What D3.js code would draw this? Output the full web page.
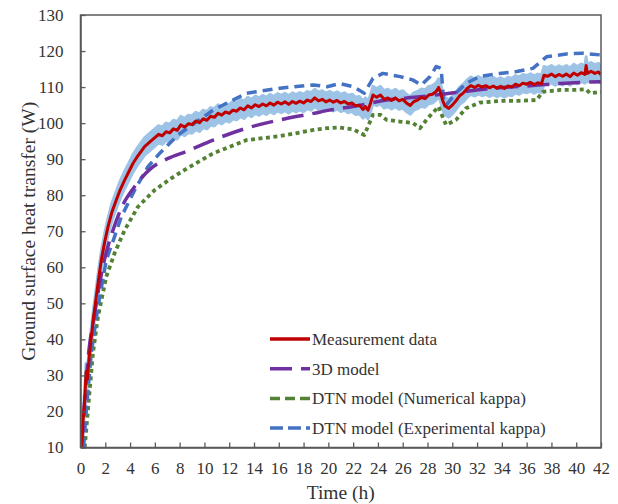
<!DOCTYPE html>
<html>
<head>
<meta charset="utf-8">
<script src="https://cdn.jsdelivr.net/npm/d3@7"></script>
<style>
  html, body { margin: 0; padding: 0; background: #fff; }
  svg { display: block; }
  text { font-family: "Liberation Serif", "Times New Roman", serif; font-weight: 400; fill: #333; }
</style>
</head>
<body>
<div id="chart"></div>
<script>
// Measured ground surface heat transfer (W) versus time (h)
const measTime = [0.05,0.2,0.35,0.45,0.55,0.7,0.87,1.05,1.27,1.45,1.68,1.95,2.22,2.55,2.89,3.2,3.56,3.9,4.23,4.6,5.17,5.6,
  6.0,6.3,6.6,6.9,7.2,7.5,7.8,8.1,8.4,8.7,9.0,9.3,9.6,9.9,10.2,10.5,10.8,11.1,11.4,11.7,12.0,12.3,12.6,12.9,13.2,13.5,13.8,
  14.1,14.4,14.7,15.0,15.3,15.6,15.9,16.2,16.5,16.8,17.1,17.4,17.7,18.0,18.3,18.6,18.9,19.2,19.5,19.8,20.1,20.4,20.7,21.0,
  21.3,21.6,21.9,22.2,22.5,22.8,23.0,23.2,23.4,23.6,23.9,24.2,24.5,24.8,25.1,25.4,25.7,26.0,26.3,26.6,26.9,27.2,27.5,27.8,
  28.1,28.4,28.7,28.9,29.05,29.2,29.4,29.7,30.0,30.3,30.6,30.9,31.2,31.5,31.8,32.1,32.4,32.7,33.0,33.3,33.6,33.9,34.2,34.5,
  34.8,35.1,35.4,35.7,36.0,36.3,36.6,36.9,37.2,37.4,37.7,38.0,38.3,38.6,38.9,39.2,39.5,39.8,40.1,40.4,40.7,40.8,40.9,41.2,
  41.5,41.8,42.0];
const measValue = [10,17,24,31,29,35,40.7,46,51.8,56.5,62,67,71.3,75.5,78.7,81.5,84.2,86.5,88.8,90.8,93.5,94.8,
  96.0,96.9,96.5,97.6,97.3,98.4,98.0,99.5,98.9,99.8,99.6,100.6,100.1,101.2,100.8,101.9,101.6,102.7,102.2,103.1,102.7,103.6,
  103.3,104.2,103.7,104.8,104.2,105.1,104.6,105.3,104.8,105.6,105.0,105.8,105.3,105.9,105.2,106.0,105.5,106.1,105.6,106.4,
  106.0,107.0,106.2,106.6,105.9,106.4,105.8,106.3,105.6,106.0,105.3,105.6,104.8,105.0,103.8,104.6,103.6,105.5,107.8,107.2,
  107.8,106.6,107.0,106.3,107.0,106.2,106.6,105.6,104.9,106.0,106.4,107.1,106.8,107.8,108.0,108.8,109.9,108.5,106.5,104.8,
  104.1,105.0,106.2,107.6,108.4,109.6,110.4,109.9,110.5,110.0,110.4,109.8,110.3,109.7,110.2,109.6,110.3,110.0,110.8,110.4,
  111.1,110.8,111.3,110.7,111.2,110.9,113.3,113.0,113.6,112.9,113.5,113.0,113.6,112.9,113.9,113.3,114.0,113.5,116.0,113.8,
  114.4,113.8,114.2,113.4];
const measError = 2.4; // half-width of the measurement uncertainty band (W)

// 3D model prediction
const model3dTime = [0.1,0.6,1.14,1.81,2.62,3.29,4.37,5.71,7.06,8.5,10.7,13.4,16.1,18.8,20.1,22.0,24.7,27.4,30.1,33.3,36.0,38.7,42.0];
const model3dValue = [10,34.3,47.2,60.2,70.3,76.4,82.4,87.5,90.2,92.1,95.3,98.6,100.9,102.7,103.6,104.6,106.4,107.3,108.4,109.7,110.3,111.0,111.5];

// DTN model, numerical kappa
const dtnNumTime = [0.34,0.6,1.0,1.41,2.08,2.75,3.56,4.64,5.98,7.32,8.4,10.7,13.4,16.1,18.8,19.9,20.9,22.0,22.9,23.6,24.2,24.7,25.8,26.8,27.4,28.0,28.9,29.1,29.5,30.3,31.1,32.2,34.1,35.4,36.8,37.3,38.7,40.0,40.8,41.1,42.0];
const dtnNumValue = [10,20.4,36.1,46.3,57.4,63.9,70.3,76.8,81.4,84.7,87.0,91.6,95.3,96.4,98.1,98.6,98.8,98.3,96.7,102.3,102.3,100.9,100.4,100.1,98.6,101.3,104.6,102.7,99.5,100.9,104.1,105.7,106.2,106.2,106.4,108.7,109.2,109.2,109.4,108.3,108.7];

// DTN model, experimental kappa
const dtnExpTime = [0.25,0.47,0.87,1.41,2.08,2.75,3.29,4.37,5.44,6.38,7.86,10.7,13.4,16.1,18.8,19.9,20.9,22.0,22.9,23.6,24.4,25.8,26.8,27.5,28.2,28.7,29.1,29.3,29.5,30.3,31.1,32.2,33.8,35.2,36.5,37.6,39.2,40.5,42.0];
const dtnExpValue = [10,20.4,36.2,49,62,68.5,74,81.4,87.9,91.6,96.7,103.6,108.3,109.7,110.6,110.1,111,110.1,108.3,112.4,113.8,112.9,112,110.6,112.9,115.7,115.2,106.4,105,108.3,111,112.9,113.8,114.3,115.2,118.4,119.2,119.4,118.9];

const xTicks = d3.range(0, 43, 2);
const yTicks = d3.range(10, 131, 10);

const legendLabels = ["Measurement data", "3D model", "DTN model (Numerical kappa)", "DTN model (Experimental kappa)"];

const W = 618, H = 504;
const margin = { left: 80.5, right: 17, top: 15, bottom: 56.5 };
const serif = '"Liberation Serif", "Times New Roman", serif';

const svg = d3.select("#chart").append("svg").attr("width", W).attr("height", H);

const x = d3.scaleLinear().domain([0, 42]).range([margin.left, W - margin.right]);
const y = d3.scaleLinear().domain([10, 130]).range([H - margin.bottom, margin.top]);

const zip = (ts, vs) => ts.map((t, i) => ({ t, v: vs[i] }));
const meas = zip(measTime, measValue);

svg.append("clipPath").attr("id", "plot-clip")
  .append("rect")
  .attr("x", x(0)).attr("y", y(130))
  .attr("width", x(42) - x(0)).attr("height", y(10) - y(130));

const plot = svg.append("g").attr("clip-path", "url(#plot-clip)");

// uncertainty band around the measurement
plot.append("path")
  .datum(meas)
  .attr("fill", "#9dc3e6")
  .attr("stroke", "#9dc3e6")
  .attr("stroke-width", 3)
  .attr("stroke-linejoin", "round")
  .attr("d", d3.area()
    .x(d => x(d.t))
    .y0(d => y(Math.max(10, d.v - measError)))
    .y1(d => y(d.v + measError)));

const line = d3.line().x(d => x(d.t)).y(d => y(d.v));

const series = [
  { data: zip(dtnNumTime, dtnNumValue), color: "#548235", width: 3.8, dash: "4,3.5", curve: d3.curveLinear },
  { data: zip(dtnExpTime, dtnExpValue), color: "#4472c4", width: 3.5, dash: "10,6", curve: d3.curveLinear },
  { data: zip(model3dTime, model3dValue), color: "#7030a0", width: 3.5, dash: "22,9", curve: d3.curveMonotoneX },
];

series.forEach(s => {
  plot.append("path")
    .datum(s.data)
    .attr("fill", "none")
    .attr("stroke", s.color)
    .attr("stroke-width", s.width)
    .attr("stroke-dasharray", s.dash)
    .attr("stroke-linejoin", "round")
    .attr("d", line.curve(s.curve)(s.data));
});

// measurement line drawn over the models
plot.append("path")
  .datum(meas)
  .attr("fill", "none")
  .attr("stroke", "#c00000")
  .attr("stroke-width", 3)
  .attr("stroke-linejoin", "round")
  .attr("d", d3.line().x(d => x(d.t)).y(d => y(d.v))(meas));

// frame and axes
svg.append("rect")
  .attr("x", x(0)).attr("y", y(130))
  .attr("width", x(42) - x(0)).attr("height", y(10) - y(130))
  .attr("fill", "none").attr("stroke", "#595959").attr("stroke-width", 1.5);

const xAxis = svg.append("g")
  .attr("transform", `translate(0,${y(10)})`)
  .call(d3.axisBottom(x).tickValues(xTicks).tickSizeInner(-5).tickSizeOuter(0).tickPadding(14));
const yAxis = svg.append("g")
  .attr("transform", `translate(${x(0)},0)`)
  .call(d3.axisLeft(y).tickValues(yTicks).tickSizeInner(-5).tickSizeOuter(0).tickPadding(17));

[xAxis, yAxis].forEach(g => {
  g.select(".domain").attr("stroke", "#595959").attr("stroke-width", 1.5);
  g.selectAll(".tick line").attr("stroke", "#595959").attr("stroke-width", 1.3);
  g.selectAll(".tick text")
    .style("font-family", serif).style("font-weight", 400)
    .style("font-size", "17px").attr("fill", "#333");
});

// axis titles
svg.append("text")
  .attr("x", (x(0) + x(42)) / 2).attr("y", 499)
  .attr("text-anchor", "middle").style("font-size", "19.5px")
  .text("Time (h)");
svg.append("text")
  .attr("transform", `translate(35,${(y(10) + y(130)) / 2}) rotate(-90)`)
  .attr("text-anchor", "middle").style("font-size", "19.5px")
  .text("Ground surface heat transfer (W)");

// legend
const legendStyles = [
  { color: "#c00000", dash: null },
  { color: "#7030a0", dash: "22,9" },
  { color: "#548235", dash: "10,5" },
  { color: "#4472c4", dash: "13,5" },
];
const legend = svg.append("g");
legendLabels.forEach((label, i) => {
  const ly = 339 + i * 29.7;
  legend.append("line")
    .attr("x1", 270).attr("x2", 310).attr("y1", ly).attr("y2", ly)
    .attr("stroke", legendStyles[i].color).attr("stroke-width", 3.5)
    .attr("stroke-dasharray", legendStyles[i].dash);
  legend.append("text")
    .attr("x", 312).attr("y", ly + 6)
    .style("font-size", "17px")
    .text(label);
});
</script>
</body>
</html>
